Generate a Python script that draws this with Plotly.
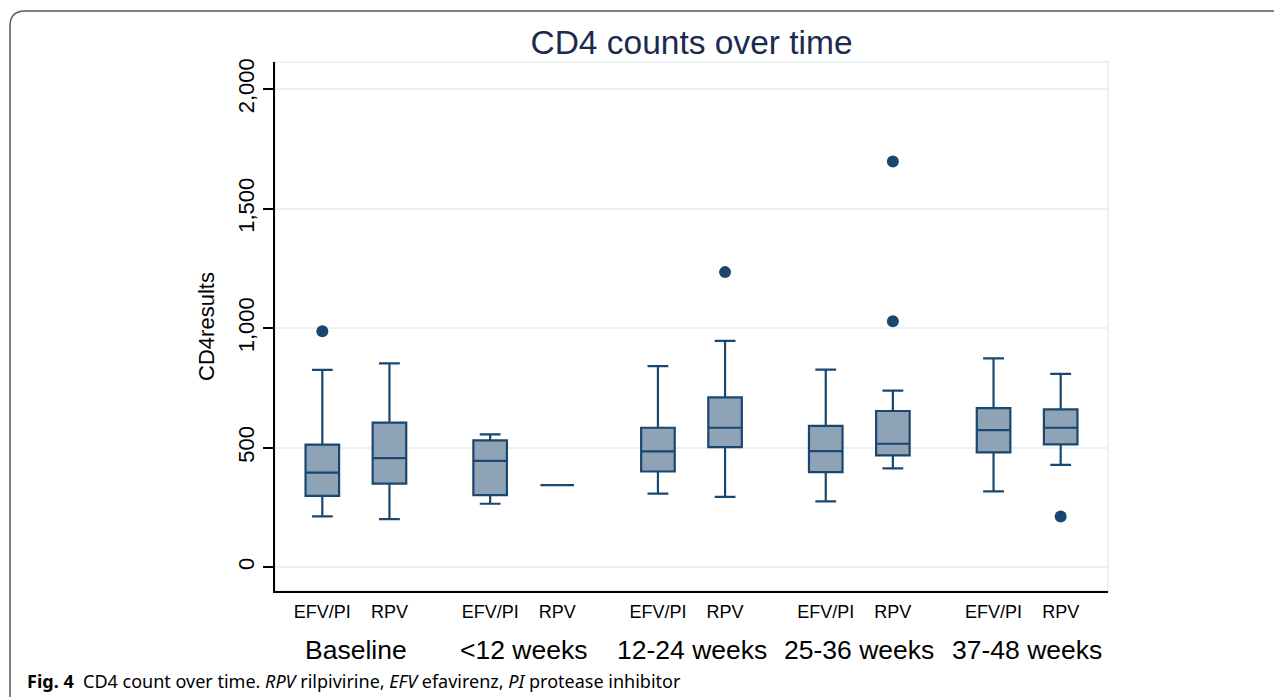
import plotly.graph_objects as go

# ---- data ----
periods = ["Baseline", "<12 weeks", "12-24 weeks", "25-36 weeks", "37-48 weeks"]
regimens = ["EFV/PI", "RPV"]

# per period: [EFV/PI, RPV]
lower_whisker = [[212, 201], [265, 343], [307, 294], [275, 413], [317, 428]]
q1_values     = [[298, 349], [301, 343], [400, 502], [397, 467], [480, 513]]
median_values = [[395, 456], [444, 343], [484, 583], [485, 516], [573, 583]]
q3_values     = [[512, 604], [530, 343], [583, 710], [591, 653], [665, 660]]
upper_whisker = [[825, 852], [555, 343], [841, 946], [826, 738], [873, 808]]
outliers      = [[[987], []], [[], []], [[], [1234]], [[], [1697, 1028]], [[], [212]]]

y_ticks = [0, 500, 1000, 1500, 2000]
y_tick_labels = ["0", "500", "1,000", "1,500", "2,000"]

# ---- style ----
NAVY = "rgb(26,71,111)"
FILL = "rgb(143,163,183)"
GRID = "rgb(234,242,243)"
FONT = "Liberation Sans, Arial, sans-serif"
W, H = 1282, 697          # window size
OFF = 8                   # default page body margin
L, R, T, B = 275, 1108, 62, 591  # plot area in page pixels
FW, FH = W - OFF, H - OFF        # figure size

def px(x):
    return (x - L) / (R - L)

def py(y):
    return (B - y) / (B - T)

offsets = [-0.2, 0.2]
fig = go.Figure()
tickvals, ticktext = [], []
for g, period in enumerate(periods):
    for k, reg in enumerate(regimens):
        xpos = g + 1 + offsets[k]
        tickvals.append(xpos)
        ticktext.append(reg)
        fig.add_trace(go.Box(
            x=[xpos],
            q1=[q1_values[g][k]], median=[median_values[g][k]], q3=[q3_values[g][k]],
            lowerfence=[lower_whisker[g][k]], upperfence=[upper_whisker[g][k]],
            width=0.2, whiskerwidth=0.62,
            fillcolor=FILL, line=dict(color=NAVY, width=2.2),
            boxpoints=False, showlegend=False, hoverinfo="skip",
        ))
        if outliers[g][k]:
            fig.add_trace(go.Scatter(
                x=[xpos] * len(outliers[g][k]), y=outliers[g][k], mode="markers",
                marker=dict(color=NAVY, size=12), showlegend=False, hoverinfo="skip",
            ))

annotations = []
for g, period in enumerate(periods):
    annotations.append(dict(
        x=g + 1, y=py(650), xref="x", yref="paper", text=period, showarrow=False,
        font=dict(family=FONT, size=26.5, color="black"), xanchor="center", yanchor="middle",
    ))

annotations.append(dict(
    x=px(25), y=py(681), xref="paper", yref="paper",
    text="<b>Fig. 4</b>  CD4 count over time. <i>RPV</i> rilpivirine, <i>EFV</i> efavirenz, <i>PI</i> protease inhibitor",
    showarrow=False, xanchor="left", yanchor="middle",
    font=dict(family="Noto Sans, Open Sans, sans-serif", size=18, color="black"),
))

shapes = [
    # light plot-region outline
    dict(type="rect", xref="paper", yref="paper", x0=0, x1=1, y0=0, y1=1,
         line=dict(color=GRID, width=2), layer="below"),
    # rounded figure frame
    dict(type="path", xref="paper", yref="paper",
         path=(f"M {px(10)} {py(710)} L {px(10)} {py(26)} "
               f"Q {px(10)} {py(11)} {px(25)} {py(11)} L {px(1300)} {py(11)}"),
         line=dict(color="rgb(90,90,90)", width=1.5)),
]

fig.update_layout(
    width=FW, height=FH,
    margin=dict(l=L - OFF, r=W - R, t=T - OFF, b=H - B, pad=0),
    paper_bgcolor="white", plot_bgcolor="white",
    boxmode="overlay",
    title=dict(text="CD4 counts over time", x=((L + R) / 2 - OFF) / FW, xanchor="center",
               y=1 - (42 - OFF) / FH, yanchor="middle",
               font=dict(family=FONT, size=33.5, color="rgb(28,42,79)")),
    xaxis=dict(range=[0.518, 5.482], tickvals=tickvals, ticktext=ticktext,
               showline=True, linecolor="black", linewidth=1.5, ticks="",
               showgrid=False, zeroline=False, ticklabelstandoff=4,
               tickfont=dict(family=FONT, size=18, color="black")),
    yaxis=dict(range=[-100, 2113], tickvals=y_ticks, ticktext=y_tick_labels,
               tickangle=-90, showline=True, linecolor="black", linewidth=1.5,
               ticks="outside", ticklen=10, tickwidth=1.5, tickcolor="black",
               showgrid=True, gridcolor=GRID, gridwidth=2, zeroline=False,
               tickfont=dict(family=FONT, size=22, color="black"),
               title=dict(text="CD4results", standoff=14,
                          font=dict(family=FONT, size=22, color="black"))),
    annotations=annotations, shapes=shapes,
)

fig.write_html("out.html")
